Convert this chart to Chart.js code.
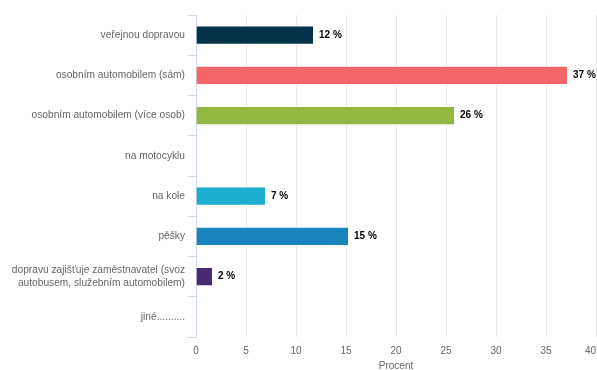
<!DOCTYPE html>
<html>
<head>
<meta charset="utf-8">
<script src="https://cdn.jsdelivr.net/npm/chart.js@4/dist/chart.umd.min.js"></script>
<style>
  html, body { margin: 0; padding: 0; background: #fff; overflow: hidden; }
  #wrap { width: 597px; height: 370px; position: relative; }
</style>
</head>
<body>
<div id="wrap"><canvas id="c"></canvas></div>
<script>
// Způsob dopravy do zaměstnání (procenta respondentů)
const categories = [
  'veřejnou dopravou',
  'osobním automobilem (sám)',
  'osobním automobilem (více osob)',
  'na motocyklu',
  'na kole',
  'pěšky',
  ['dopravu zajišťuje zaměstnavatel (svoz', 'autobusem, služebním automobilem)'],
  'jiné..........'
];
const percentValues = [11.8, 37.2, 25.9, null, 7.0, 15.3, 1.7, null];
const barColors = ['#05324b', '#f46567', '#93b741', '#5b5b5b', '#1caecf', '#1985bd', '#472a6f', '#888888'];
const xTicks = [0, 5, 10, 15, 20, 25, 30, 35, 40];
const axisTitle = 'Procent';

const FONT = '"Liberation Sans", Arial, sans-serif';

// Popisky hodnot za koncem sloupců
const valueLabels = {
  id: 'valueLabels',
  afterDatasetsDraw(chart) {
    const ctx = chart.ctx;
    const meta = chart.getDatasetMeta(0);
    ctx.save();
    ctx.font = 'bold 10px ' + FONT;
    ctx.textAlign = 'left';
    ctx.textBaseline = 'middle';
    ctx.lineJoin = 'round';
    meta.data.forEach((bar, i) => {
      const v = percentValues[i];
      if (v == null) return;
      const text = Math.round(v) + ' %';
      const x = bar.x + 5;
      const y = bar.y;
      ctx.lineWidth = 2;
      ctx.strokeStyle = '#ffffff';
      ctx.strokeText(text, x, y);
      ctx.fillStyle = '#000000';
      ctx.fillText(text, x, y);
    });
    ctx.restore();
  }
};

// Poslední popisek osy X zarovnat doprava k okraji grafu, aby nebyl oříznut
const justifyLastTick = {
  id: 'justifyLastTick',
  beforeDraw(chart) {
    const scale = chart.scales.x;
    const items = scale.getLabelItems();
    const last = items[items.length - 1];
    if (last) {
      last.options.textAlign = 'right';
      last.options.translation[0] = chart.width - 1;
    }
  }
};

new Chart(document.getElementById('c'), {
  type: 'bar',
  data: {
    labels: categories,
    datasets: [{
      data: percentValues,
      backgroundColor: barColors,
      borderColor: '#ffffff',
      borderWidth: 1,
      categoryPercentage: 0.5,
      barPercentage: 0.95
    }]
  },
  options: {
    indexAxis: 'y',
    responsive: true,
    maintainAspectRatio: false,
    animation: false,
    layout: { padding: { top: 15, right: 1, bottom: 0, left: 0 } },
    plugins: {
      legend: { display: false },
      tooltip: { enabled: false }
    },
    scales: {
      x: {
        type: 'linear',
        min: 0,
        max: 40,
        afterBuildTicks(scale) {
          scale.ticks = xTicks.map(v => ({ value: v }));
        },
        afterFit(scale) {
          scale.height = 33;
          scale.paddingRight = 0;
          scale.paddingLeft = 0;
        },
        grid: { color: '#e6e6e6', drawTicks: false, lineWidth: 1 },
        border: { display: false },
        ticks: {
          color: '#666666',
          padding: 8,
          font: { family: FONT, size: 10 },
          maxRotation: 0
        },
        title: {
          display: true,
          text: axisTitle,
          color: '#666666',
          font: { family: FONT, size: 10 },
          padding: { top: 0, bottom: -2 }
        }
      },
      y: {
        afterFit(scale) {
          scale.width = 196;
        },
        grid: {
          display: true,
          drawOnChartArea: false,
          drawTicks: true,
          tickLength: 8,
          color: '#ccd6eb',
          offset: true
        },
        border: { display: true, color: '#ccd6eb' },
        ticks: {
          color: '#666666',
          padding: 3,
          font: { family: FONT, size: 10.2, lineHeight: 1.3 },
          autoSkip: false
        }
      }
    }
  },
  plugins: [valueLabels, justifyLastTick]
});
</script>
</body>
</html>
